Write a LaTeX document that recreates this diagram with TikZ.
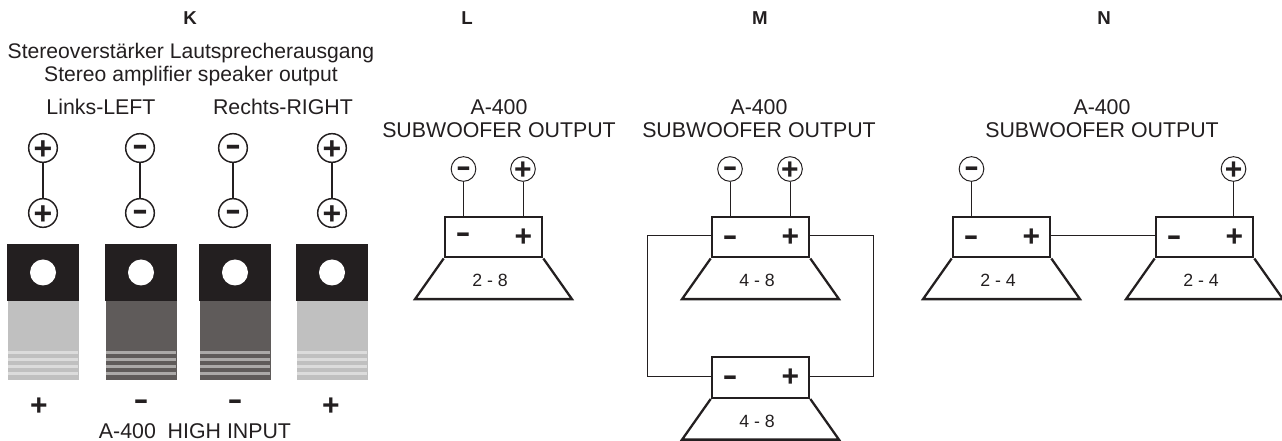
\documentclass[tikz,border=0pt]{standalone}
\usepackage{graphicx}
\usepackage{fontspec}
\setmainfont{Liberation Sans}
\definecolor{ink}{HTML}{231F20}
\definecolor{lgray}{HTML}{C0C0C0}
\definecolor{lstripe}{HTML}{DCDCDC}
\definecolor{dgray}{HTML}{5F5B5A}
\definecolor{dstripe}{HTML}{ABA9A8}
\newcommand{\mn}{\scalebox{1.5}[1]{-}}
\tikzset{
  px/.style={x=0.75pt,y=-0.75pt},
  txt/.style={text=ink,font=\fontsize{16}{17.2}\selectfont,inner sep=0pt,align=center},
  plain/.style={text=ink,font=\fontsize{16}{17.2}\selectfont,inner sep=0pt},
  head/.style={text=ink,font=\fontsize{14}{16}\selectfont\bfseries,inner sep=0pt},
  val/.style={text=ink,font=\fontsize{13.3}{15}\selectfont,inner sep=0pt},
  sign/.style={text=ink,font=\fontsize{22.5}{22.5}\selectfont\bfseries,inner sep=0pt},
  bigsign/.style={sign,font=\fontsize{24}{24}\selectfont\bfseries},
  sup/.style={yshift=-2pt},
  sdn/.style={yshift=-1.5pt},
  termL/.style={circle,draw=ink,line width=1.1pt,fill=white,minimum size=21.5pt,inner sep=0pt},
  termS/.style={circle,draw=ink,line width=0.75pt,fill=white,minimum size=18.5pt,inner sep=0pt},
  jumper/.style={draw=ink,line width=1.5pt},
  wire/.style={draw=ink,line width=0.75pt},
  spkbox/.style={rectangle,draw=ink,line width=1.7pt,minimum width=73pt,minimum height=30.5pt,inner sep=0pt},
  cone/.style={draw=ink,line width=1.7pt,line join=miter},
  lughead/.style={rectangle,fill=ink,minimum width=54pt,minimum height=43pt,inner sep=0pt},
  hole/.style={circle,fill=white,minimum size=19.5pt,inner sep=0pt},
}
% name, x centre of box, y centre of box, impedance label, y shift of the minus sign
\newcommand{\spk}[5]{%
  \node[spkbox] (#1) at (#2,#3) {};
  \draw[cone] (#1.south west) -- ([xshift=-21.5pt,yshift=-30.5pt]#1.south west) -- ([xshift=21.5pt,yshift=-30.5pt]#1.south east) -- (#1.south east);
  \node[val] (#1v) at ([xshift=-2.6pt,yshift=-16.5pt]#1.south) {#4};
  \node[sign] (#1m) at ([xshift=14.5pt,yshift=#5]#1.west) {\mn};
  \node[sign] (#1p) at ([xshift=-15pt,yshift=-0.2pt]#1.east) {+};
}
% name, x, colour, stripe colour
\newcommand{\lug}[4]{%
  \fill[#3] (#2-35.5,301) rectangle (#2+35.5,380);
  \foreach \yy in {351.5,358.5,365.5,372.5} \fill[#4] (#2-35.5,\yy) rectangle (#2+35,\yy+2.6);
  \node[lughead] (#1) at (#2,272.5) {};
  \node[hole] (#1h) at (#2,272.5) {};
}
% name, x, sign, sign shift style
\newcommand{\post}[4]{%
  \node[termL] (#1a) at (#2,148) {};
  \node[bigsign,#4] at (#1a) {#3};
  \node[termL] (#1b) at (#2,213) {};
  \node[bigsign,#4] at (#1b) {#3};
  \path[jumper] (#1a) -- (#1b);
}
\begin{document}
\begin{tikzpicture}[px]
\useasboundingbox (0,0) rectangle (1282,441);
\node[head] (hk) at (190,18) {K};
\node[head] (hl) at (467,18) {L};
\node[head] (hm) at (760,18) {M};
\node[head] (hn) at (1104,18) {N};
\node[txt,font=\fontsize{15.85}{17.2}\selectfont] (ta) at (191,65) {Stereoverstärker Lautsprecherausgang\\Stereo amplifier speaker output};
\node[txt] (tl) at (101,107) {Links-LEFT};
\node[txt] (tr) at (283,107) {Rechts-RIGHT};
\post{k1}{43}{+}{sdn}
\post{k2}{140}{\mn}{sup}
\post{k3}{233}{\mn}{sup}
\post{k4}{332}{+}{sdn}
\lug{g1}{43}{lgray}{lstripe}
\lug{g2}{141}{dgray}{dstripe}
\lug{g3}{235}{dgray}{dstripe}
\lug{g4}{332}{lgray}{lstripe}
\node[sign] (s1) at (39,407) {+};
\node[sign] (s2) at (141,405) {\mn};
\node[sign] (s3) at (235,405) {\mn};
\node[sign] (s4) at (331,407) {+};
\node[plain] (hi) at (195,431) {A-400\ \ HIGH INPUT};
% L
\node[txt] (tL) at (499,118.5) {A-400\\SUBWOOFER OUTPUT};
\spk{a}{493.5}{237}{2 - 8}{-0.2pt}
\node[termS] (am) at (463.5,169) {};
\node[sign,sup] at (am) {\mn};
\node[termS] (ap) at (523,169) {};
\node[sign,sdn] at (ap) {+};
\path[wire] (am) -- (am |- a.north);
\path[wire] (ap) -- (ap |- a.north);
% M
\node[txt] (tM) at (759,118.5) {A-400\\SUBWOOFER OUTPUT};
\spk{b}{760.5}{237}{4 - 8}{-2.5pt}
\spk{c}{760.5}{377.5}{4 - 8}{-2.1pt}
\node[termS] (bm) at (730,169) {};
\node[sign,sup] at (bm) {\mn};
\node[termS] (bp) at (790,169) {};
\node[sign,sdn] at (bp) {+};
\path[wire] (bm) -- (bm |- b.north);
\path[wire] (bp) -- (bp |- b.north);
\coordinate (c1) at (647,236);
\coordinate (c2) at (647,377);
\coordinate (c3) at (873,236);
\coordinate (c4) at (873,377);
\path[wire] (b.west |- c1) -- (c1) -- (c2) -- (c.west |- c2);
\path[wire] (b.east |- c3) -- (c3) -- (c4) -- (c.east |- c4);
% N
\node[txt] (tN) at (1102,118.5) {A-400\\SUBWOOFER OUTPUT};
\spk{d}{1001.5}{237}{2 - 4}{-2.5pt}
\spk{e}{1204.5}{237}{2 - 4}{-2.5pt}
\node[termS] (dm) at (971.5,169) {};
\node[sign,sup] at (dm) {\mn};
\node[termS] (ep) at (1233.5,169) {};
\node[sign,sdn] at (ep) {+};
\path[wire] (dm) -- (dm |- d.north);
\path[wire] (ep) -- (ep |- e.north);
\path[wire] (d.east |- c1) -- (e.west |- c1);
\end{tikzpicture}
\end{document}
